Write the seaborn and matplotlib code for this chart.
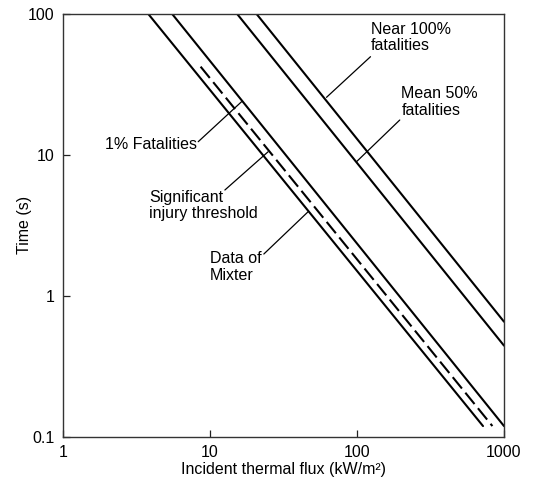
import numpy as np
import pandas as pd
import matplotlib
matplotlib.use("Agg")
import matplotlib.pyplot as plt
import seaborn as sns

# ---- data (log-log straight lines, endpoints) ----
series_names = ["Significant injury threshold", "Data of Mixter", "1% Fatalities",
                "Mean 50% fatalities", "Near 100% fatalities"]
flux_sig = [3.82, 720.0]
time_sig = [100.0, 0.119]
flux_mixter = [8.66, 834.0]
time_mixter = [42.3, 0.119]
flux_1pct = [5.55, 1000.0]
time_1pct = [100.0, 0.119]
flux_50pct = [15.35, 1000.0]
time_50pct = [100.0, 0.443]
flux_100pct = [20.8, 1000.0]
time_100pct = [100.0, 0.655]

x_ticks = [1, 10, 100, 1000]
x_tick_labels = ["1", "10", "100", "1000"]
y_ticks = [0.1, 1, 10, 100]
y_tick_labels = ["0.1", "1", "10", "100"]

frames = []
for name, fx, ty in zip(series_names,
                        [flux_sig, flux_mixter, flux_1pct, flux_50pct, flux_100pct],
                        [time_sig, time_mixter, time_1pct, time_50pct, time_100pct]):
    frames.append(pd.DataFrame({"flux": fx, "time": ty, "series": name}))
df = pd.concat(frames, ignore_index=True)

sns.set_theme(style="white")
plt.rcParams["font.family"] = ["Liberation Sans", "DejaVu Sans"]
plt.rcParams["text.color"] = "black"

fig = plt.figure(figsize=(5.33, 4.84), dpi=100)
ax = fig.add_axes([62.7 / 533, 1 - 436.7 / 484, (504 - 62.7) / 533, (436.7 - 14) / 484])

palette = {n: "black" for n in series_names}
dashes = {n: "" for n in series_names}
dashes["Data of Mixter"] = (7, 2.6)
sns.lineplot(data=df, x="flux", y="time", hue="series", style="series",
             palette=palette, dashes=dashes, linewidth=1.5, legend=False,
             ax=ax, sort=True, estimator=None)

ax.set_xscale("log")
ax.set_yscale("log")
ax.set_xlim(1, 1000)
ax.set_ylim(0.1, 100)
ax.xaxis.set_major_locator(matplotlib.ticker.FixedLocator(x_ticks))
ax.yaxis.set_major_locator(matplotlib.ticker.FixedLocator(y_ticks))
ax.xaxis.set_minor_locator(matplotlib.ticker.NullLocator())
ax.yaxis.set_minor_locator(matplotlib.ticker.NullLocator())
ax.set_xticklabels(x_tick_labels)
ax.set_yticklabels(y_tick_labels)
fs = 11.5
ax.tick_params(axis="both", which="major", direction="in", length=5, width=0.9,
               color="#222222", labelsize=fs, labelcolor="black", pad=6,
               bottom=True, left=True, top=False, right=False)

for s in ax.spines.values():
    s.set_color("#333333")
    s.set_linewidth(1.0)

ax.set_xlabel("Incident thermal flux (kW/m\u00b2)", fontsize=fs, color="black")
ax.set_ylabel("Time (s)", fontsize=fs, color="black")
ax.xaxis.set_label_coords(0.5, -0.060)
ax.yaxis.set_label_coords(-0.070, 0.5)

# ---- annotations with leader lines (axes-fraction coordinates) ----
lead = dict(arrowstyle="-", color="black", lw=0.9, shrinkA=0, shrinkB=0)
ax.annotate("", xy=(0.4053, 0.7925), xytext=(0.3071, 0.6979),
            xycoords="axes fraction", textcoords="axes fraction", arrowprops=lead)
ax.text(0.096, 0.6901, "1% Fatalities", transform=ax.transAxes,
        ha="left", va="center", fontsize=fs)

ax.annotate("", xy=(0.4656, 0.6742), xytext=(0.3675, 0.5836),
            xycoords="axes fraction", textcoords="axes fraction", arrowprops=lead)
ax.text(0.1961, 0.547, "Significant\ninjury threshold", transform=ax.transAxes,
        ha="left", va="center", fontsize=fs, linespacing=1.15)

ax.annotate("", xy=(0.5562, 0.5323), xytext=(0.4558, 0.4322),
            xycoords="axes fraction", textcoords="axes fraction", arrowprops=lead)
ax.text(0.3336, 0.402, "Data of\nMixter", transform=ax.transAxes,
        ha="left", va="center", fontsize=fs, linespacing=1.15)

ax.annotate("", xy=(0.6658, 0.6506), xytext=(0.7638, 0.7492),
            xycoords="axes fraction", textcoords="axes fraction", arrowprops=lead)
ax.text(0.7677, 0.7925, "Mean 50%\nfatalities", transform=ax.transAxes,
        ha="left", va="center", fontsize=fs, linespacing=1.15)

ax.annotate("", xy=(0.5978, 0.8029), xytext=(0.6975, 0.8990),
            xycoords="axes fraction", textcoords="axes fraction", arrowprops=lead)
ax.text(0.6975, 0.9444, "Near 100%\nfatalities", transform=ax.transAxes,
        ha="left", va="center", fontsize=fs, linespacing=1.15)

fig.savefig("out.png", dpi=100, facecolor="white")
